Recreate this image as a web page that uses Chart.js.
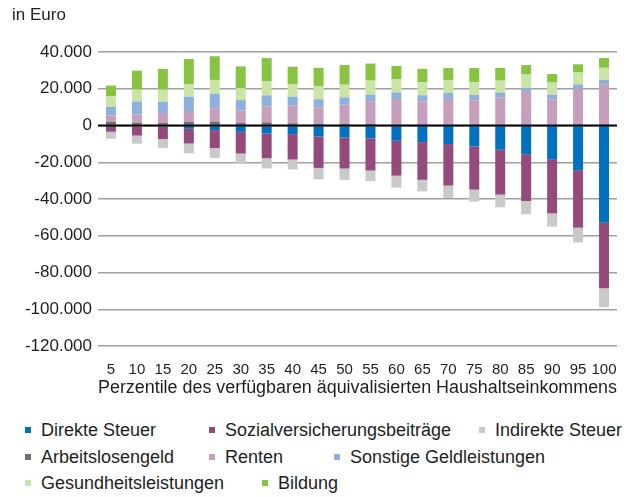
<!DOCTYPE html>
<html>
<head>
<meta charset="utf-8">
<script src="https://cdn.jsdelivr.net/npm/chart.js@4"></script>
<style>
  body { margin: 0; background: #fff; font-family: "Liberation Sans", Arial, sans-serif; color: #1e1e1e; }
  #wrap { position: relative; width: 636px; height: 497px; }
  #unit { position: absolute; left: 12px; top: 5px; font-size: 17px; line-height: 20px; }
  #chartBox { position: absolute; left: 0; top: 0; width: 636px; height: 400px; }
  .lg { position: absolute; font-size: 18px; line-height: 20px; white-space: nowrap; }
  .lg i { display: inline-block; width: 6px; height: 6px; margin-right: 10px; vertical-align: 3px; }
</style>
</head>
<body>
<div id="wrap">
  <div id="chartBox"><canvas id="chart"></canvas></div>
  <div id="unit">in Euro</div>
  <div id="legend"></div>
</div>
<script>
const categories = ['5', '10', '15', '20', '25', '30', '35', '40', '45', '50',
                    '55', '60', '65', '70', '75', '80', '85', '90', '95', '100'];

// Abgaben (negativ)
const direkteSteuer = [-300, -400, -700, -1800, -2500, -3450, -4400, -4700, -6000, -6500,
                       -7100, -8300, -9050, -10100, -11400, -13200, -15600, -18300, -24300, -52900];
const sozialversicherung = [-3100, -5100, -6700, -8000, -9800, -11800, -13400, -13800, -17100, -16900,
                            -17400, -19000, -20500, -22600, -23500, -24400, -25500, -29500, -31300, -35700];
const indirekteSteuer = [-3800, -4400, -4900, -5300, -5450, -5450, -5600, -5450, -6200, -6200,
                         -5800, -6500, -6300, -6700, -6500, -6900, -7200, -7200, -8000, -10300];

// Leistungen (positiv)
const arbeitslosengeld = [2000, 1500, 1300, 1900, 2100, 1300, 1700, 1200, 1000, 800,
                          800, 600, 600, 600, 600, 500, 500, 500, 300, 300];
const renten = [3450, 4500, 5450, 6000, 7300, 6900, 8700, 9800, 8900, 10500,
                12400, 13800, 12400, 13800, 13100, 14700, 17800, 13600, 19600, 22200];
const sonstigeGeld = [4700, 7100, 6200, 7800, 7800, 5600, 6000, 4700, 4400, 4000,
                      3600, 3600, 3450, 3300, 2900, 2700, 2200, 2700, 2400, 2400];
const gesundheit = [5800, 6400, 6550, 6700, 7600, 6550, 7600, 6900, 6900, 6900,
                    7600, 7300, 7100, 7100, 6900, 6500, 7300, 6500, 6500, 6500];
const bildung = [5800, 10400, 11300, 13800, 12900, 11800, 12700, 9400, 10200, 10700,
                 9300, 7100, 7300, 6500, 7800, 6900, 5100, 4700, 4500, 5300];

const yMin = -120000, yMax = 40000, yStep = 20000;

const series = [
  { label: 'Direkte Steuer', data: direkteSteuer, color: '#0070c0', lx: 25, ly: 420 },
  { label: 'Sozialversicherungsbeiträge', data: sozialversicherung, color: '#944b7c', lx: 209, ly: 420 },
  { label: 'Indirekte Steuer', data: indirekteSteuer, color: '#c9c9c9', lx: 479, ly: 420 },
  { label: 'Arbeitslosengeld', data: arbeitslosengeld, color: '#6f6f70', lx: 25, ly: 447 },
  { label: 'Renten', data: renten, color: '#c59fbb', lx: 209, ly: 447 },
  { label: 'Sonstige Geldleistungen', data: sonstigeGeld, color: '#8db0dd', lx: 334, ly: 447 },
  { label: 'Gesundheitsleistungen', data: gesundheit, color: '#cae4a6', lx: 25, ly: 473 },
  { label: 'Bildung', data: bildung, color: '#88c441', lx: 262, ly: 473 }
];

function fmt(v) {
  const s = Math.abs(v).toString().replace(/\B(?=(\d{3})+(?!\d))/g, '.');
  return (v < 0 ? '-' : '') + s;
}

// Nulllinie über den Balken
const zeroLine = {
  id: 'zeroLine',
  afterDatasetsDraw(chart) {
    const y = chart.scales.y.getPixelForValue(0);
    const ctx = chart.ctx;
    ctx.save();
    ctx.strokeStyle = '#000';
    ctx.lineWidth = 2;
    ctx.beginPath();
    ctx.moveTo(chart.chartArea.left, y);
    ctx.lineTo(chart.chartArea.right, y);
    ctx.stroke();
    ctx.restore();
  }
};

const ctx = document.getElementById('chart').getContext('2d');
const chart = new Chart(ctx, {
  type: 'bar',
  data: {
    labels: categories,
    datasets: series.map(s => ({
      label: s.label,
      data: s.data,
      backgroundColor: s.color,
      borderWidth: 0,
      barPercentage: 0.77,
      categoryPercentage: 0.5
    }))
  },
  options: {
    responsive: true,
    maintainAspectRatio: false,
    animation: false,
    layout: { padding: { top: 52, right: 19, left: 0, bottom: 0 } },
    plugins: { legend: { display: false }, tooltip: { enabled: false } },
    scales: {
      x: {
        stacked: true,
        grid: { display: false },
        border: { display: false },
        ticks: { color: '#1e1e1e', font: { size: 15, family: 'Liberation Sans' }, padding: 7,
                 autoSkip: false, maxRotation: 0 },
        title: {
          display: true,
          text: 'Perzentile des verfügbaren äquivalisierten Haushaltseinkommens',
          color: '#1e1e1e',
          font: { size: 18, family: 'Liberation Sans' },
          padding: { top: 0, bottom: 1 }
        },
        afterFit(scale) { scale.height = 54; }
      },
      y: {
        stacked: true,
        min: yMin,
        max: yMax,
        border: { display: false },
        grid: { color: '#a0a0a0', lineWidth: 1.5, drawTicks: false },
        ticks: {
          stepSize: yStep,
          color: '#1e1e1e',
          font: { size: 17, family: 'Liberation Sans' },
          padding: 6,
          callback: v => fmt(v)
        },
        afterFit(scale) { scale.width = 98; }
      }
    }
  },
  plugins: [zeroLine]
});

const legend = document.getElementById('legend');
series.forEach(s => {
  const d = document.createElement('div');
  d.className = 'lg';
  d.style.left = s.lx + 'px';
  d.style.top = s.ly + 'px';
  d.innerHTML = '<i style="background:' + s.color + '"></i>' + s.label;
  legend.appendChild(d);
});
</script>
</body>
</html>
